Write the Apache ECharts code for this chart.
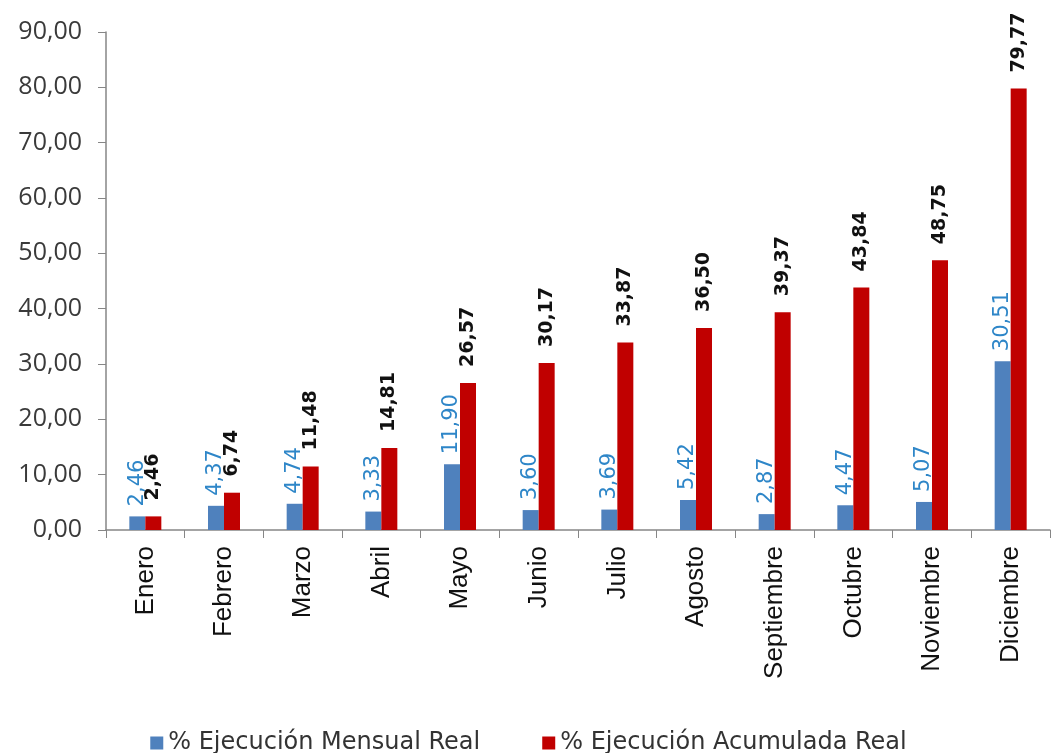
<!DOCTYPE html>
<html>
<head>
<meta charset="utf-8">
<script src="https://cdn.jsdelivr.net/npm/echarts@6/dist/echarts.min.js"></script>
<style>html,body{margin:0;padding:0;background:#fff;}#c{width:1057px;height:753px;}</style>
</head>
<body>
<div id="c"></div>
<script>
var categories = ['Enero','Febrero','Marzo','Abril','Mayo','Junio','Julio','Agosto','Septiembre','Octubre','Noviembre','Diciembre'];
var mensual = [2.46, 4.37, 4.74, 3.33, 11.90, 3.60, 3.69, 5.42, 2.87, 4.47, 5.07, 30.51];
var acumulada = [2.46, 6.74, 11.48, 14.81, 26.57, 30.17, 33.87, 36.50, 39.37, 43.84, 48.75, 79.77];
var seriesNames = ['% Ejecución Mensual Real', '% Ejecución Acumulada Real'];

function fmt(v){ return v.toFixed(2).replace('.', ','); }
var font = '"Open Sans", "Noto Sans", sans-serif';
var chart = echarts.init(document.getElementById('c'));
chart.setOption({
  animation: false,
  textStyle: { fontFamily: font },
  grid: { left: 106, right: 7, top: 32, bottom: 223, containLabel: false },
  legend: {
    top: 726, left: 'center', itemWidth: 13, itemHeight: 13, itemGap: 62,
    icon: 'rect',
    textStyle: { fontSize: 24, color: '#333', fontFamily: '"DejaVu Sans", sans-serif' },
    data: seriesNames
  },
  xAxis: {
    type: 'category', data: categories,
    axisLine: { lineStyle: { color: '#868686', width: 1.5 } },
    axisTick: { show: true, length: 8, lineStyle: { color: '#868686' } },
    axisLabel: { rotate: 90, fontSize: 26, color: '#111', margin: 16, fontFamily: '"Liberation Sans", Arial, sans-serif' }
  },
  yAxis: {
    type: 'value', min: 0, max: 90, interval: 10,
    axisLine: { show: true, lineStyle: { color: '#868686', width: 1.5 } },
    axisTick: { show: true, length: 8, inside: false, lineStyle: { color: '#868686' } },
    splitLine: { show: false },
    axisLabel: { formatter: function(v){ return fmt(v); }, fontSize: 25, color: '#3a3a3a', margin: 24, fontFamily: font }
  },
  series: [
    {
      name: seriesNames[0], type: 'bar', data: mensual,
      barWidth: 16, barGap: '0%',
      itemStyle: { color: '#4F81BD' },
      label: {
        show: true, position: 'top', rotate: 90, align: 'left', verticalAlign: 'middle', distance: 10,
        formatter: function(p){ return fmt(p.value); },
        fontSize: 21, color: '#2E86C8', fontFamily: '"DejaVu Sans", sans-serif'
      }
    },
    {
      name: seriesNames[1], type: 'bar', data: acumulada,
      barWidth: 16, barGap: '0%',
      itemStyle: { color: '#C00000' },
      label: {
        show: true, position: 'top', rotate: 90, align: 'left', verticalAlign: 'middle', distance: 16,
        formatter: function(p){ return fmt(p.value); },
        fontSize: 19, fontWeight: 'bold', color: '#111', fontFamily: '"DejaVu Sans", sans-serif'
      }
    }
  ]
});
</script>
</body>
</html>
